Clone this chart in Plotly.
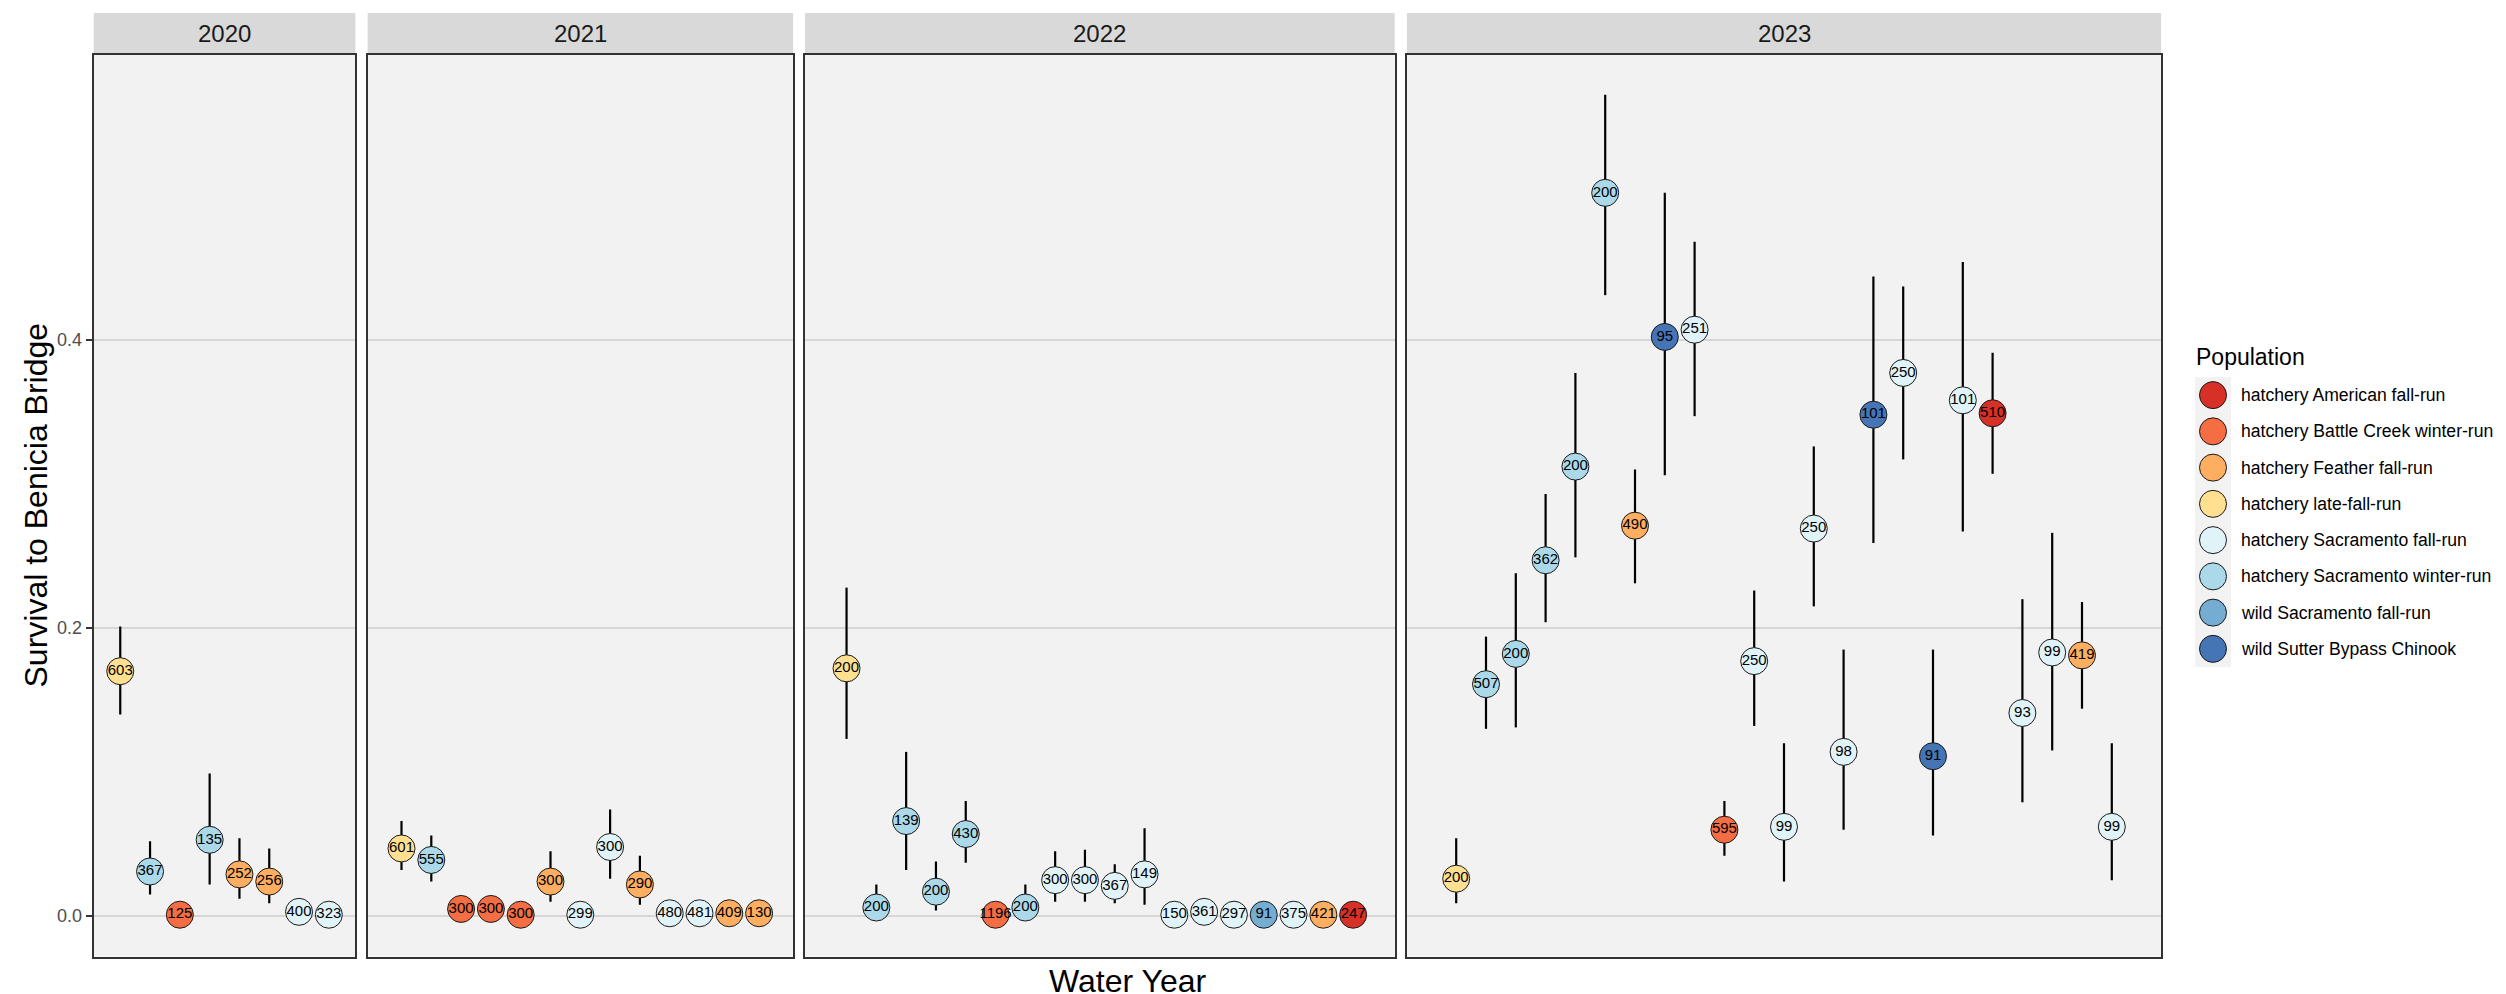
import plotly.graph_objects as go

W, H = 2506, 994
FONT = "Liberation Sans, Arial, sans-serif"

# ---------------- data ----------------
populations = [
    "hatchery American fall-run",
    "hatchery Battle Creek winter-run",
    "hatchery Feather fall-run",
    "hatchery late-fall-run",
    "hatchery Sacramento fall-run",
    "hatchery Sacramento winter-run",
    "wild Sacramento fall-run",
    "wild Sutter Bypass Chinook",
]
pop_colors = ["#D73027", "#F46D43", "#FDAE61", "#FEE090",
              "#E0F3F8", "#ABD9E9", "#74ADD1", "#4575B4"]
years = ["2020", "2021", "2022", "2023"]

# population index per release (0..7 as in `populations`)
pop_2020 = [3, 5, 1, 5, 2, 2, 4, 4]
n_2020 = [603, 367, 125, 135, 252, 256, 400, 323]
est_2020 = [0.170, 0.031, 0.001, 0.053, 0.029, 0.024, 0.003, 0.001]
lo_2020 = [0.140, 0.015, 0.001, 0.022, 0.012, 0.009, 0.003, 0.001]
hi_2020 = [0.201, 0.052, 0.001, 0.099, 0.054, 0.047, 0.003, 0.001]

pop_2021 = [3, 5, 1, 1, 1, 2, 4, 4, 2, 4, 4, 2, 2]
n_2021 = [601, 555, 300, 300, 300, 300, 299, 300, 290, 480, 481, 409, 130]
est_2021 = [0.047, 0.039, 0.005, 0.005, 0.001, 0.024, 0.001, 0.048, 0.022, 0.002, 0.002, 0.002, 0.002]
lo_2021 = [0.032, 0.024, 0.002, 0.002, 0.001, 0.010, 0.001, 0.026, 0.008, 0.002, 0.002, 0.002, 0.002]
hi_2021 = [0.066, 0.056, 0.014, 0.014, 0.001, 0.045, 0.001, 0.074, 0.042, 0.002, 0.002, 0.002, 0.002]

pop_2022 = [3, 5, 5, 5, 5, 1, 5, 4, 4, 4, 4, 4, 4, 4, 6, 4, 2, 0]
n_2022 = [200, 200, 139, 200, 430, 1196, 200, 300, 300, 367, 149, 150, 361, 297, 91, 375, 421, 247]
est_2022 = [0.172, 0.006, 0.066, 0.017, 0.057, 0.001, 0.006, 0.025, 0.025, 0.021, 0.029,
            0.001, 0.003, 0.001, 0.001, 0.001, 0.001, 0.001]
lo_2022 = [0.123, 0.001, 0.032, 0.004, 0.037, 0.001, 0.001, 0.010, 0.010, 0.009, 0.008,
           0.001, 0.003, 0.001, 0.001, 0.001, 0.001, 0.001]
hi_2022 = [0.228, 0.022, 0.114, 0.038, 0.080, 0.001, 0.022, 0.045, 0.046, 0.036, 0.061,
           0.001, 0.003, 0.001, 0.001, 0.001, 0.001, 0.001]

pop_2023 = [3, 5, 5, 5, 5, 5, 2, 7, 4, 1, 4, 4, 4, 4, 7, 4, 7, 4, 0, 4, 4, 2, 4]
n_2023 = [200, 507, 200, 362, 200, 200, 490, 95, 251, 595, 250, 99, 250, 98, 101, 250, 91, 101,
          510, 93, 99, 419, 99]
est_2023 = [0.026, 0.161, 0.182, 0.247, 0.312, 0.502, 0.271, 0.402, 0.407, 0.060, 0.177, 0.062,
            0.269, 0.114, 0.348, 0.377, 0.111, 0.358, 0.349, 0.141, 0.183, 0.181, 0.062]
lo_2023 = [0.009, 0.130, 0.131, 0.204, 0.249, 0.431, 0.231, 0.306, 0.347, 0.042, 0.132, 0.024,
           0.215, 0.060, 0.259, 0.317, 0.056, 0.267, 0.307, 0.079, 0.115, 0.144, 0.025]
hi_2023 = [0.054, 0.194, 0.238, 0.293, 0.377, 0.570, 0.310, 0.502, 0.468, 0.080, 0.226, 0.120,
           0.326, 0.185, 0.444, 0.437, 0.185, 0.454, 0.391, 0.220, 0.266, 0.218, 0.120]

panels = [
    (pop_2020, n_2020, est_2020, lo_2020, hi_2020),
    (pop_2021, n_2021, est_2021, lo_2021, hi_2021),
    (pop_2022, n_2022, est_2022, lo_2022, hi_2022),
    (pop_2023, n_2023, est_2023, lo_2023, hi_2023),
]

# ---------------- layout geometry (pixels) ----------------
panel_px = [(85.7, 347.4), (359.6, 785.0), (797.0, 1386.7), (1399.0, 2153.0)]
panel_top, panel_bot = 46.5, 948.5
strip_top = 5.0
spacing_px = 29.8
y_range = [-0.028, 0.598]

def px_x(v):
    return v / W

def px_y(v):
    return 1 - v / H

fig = go.Figure()
layout = dict(
    width=W, height=H, autosize=False,
    margin=dict(l=0, r=0, t=0, b=0),
    paper_bgcolor="white", plot_bgcolor="#F2F2F2",
    showlegend=False,
    font=dict(family=FONT, color="black"),
)
shapes, annotations = [], []

for i, (pops, ns, est, lo, hi) in enumerate(panels):
    k = "" if i == 0 else str(i + 1)
    x0, x1 = panel_px[i]
    npts = len(est)
    pad = ((x1 - x0) / spacing_px - (npts - 1)) / 2
    xs = list(range(npts))
    fig.add_trace(go.Scatter(
        x=xs, y=est, xaxis="x" + k, yaxis="y" + k,
        mode="markers+text",
        text=[str(v) for v in ns],
        textposition="middle center",
        textfont=dict(family=FONT, size=15, color="black"),
        marker=dict(size=27, color=[pop_colors[p] for p in pops],
                    line=dict(color="#1A1A1A", width=1)),
        error_y=dict(type="data", symmetric=False,
                     array=[h - e for h, e in zip(hi, est)],
                     arrayminus=[e - l for e, l in zip(est, lo)],
                     color="black", thickness=2.2, width=0),
        cliponaxis=False, hoverinfo="skip",
    ))
    layout["xaxis" + k] = dict(
        domain=[px_x(x0), px_x(x1)], range=[-pad, npts - 1 + pad],
        showgrid=False, zeroline=False, showticklabels=False, ticks="",
        showline=True, mirror=True, linecolor="#333333", linewidth=2,
        anchor="y" + k,
    )
    layout["yaxis" + k] = dict(
        domain=[px_y(panel_bot), px_y(panel_top)], range=y_range,
        tickvals=[0, 0.2, 0.4], ticktext=["0.0", "0.2", "0.4"],
        showticklabels=(i == 0), ticks="outside" if i == 0 else "",
        ticklen=6, tickwidth=2, tickcolor="#333333",
        tickfont=dict(family=FONT, size=18, color="#4D4D4D"),
        showgrid=True, gridcolor="#D6D6D6", gridwidth=2, zeroline=False,
        showline=True, mirror=True, linecolor="#333333", linewidth=2,
        anchor="x" + k,
    )
    # facet strip
    shapes.append(dict(type="rect", xref="paper", yref="paper",
                       x0=px_x(x0), x1=px_x(x1), y0=px_y(panel_top), y1=px_y(strip_top),
                       fillcolor="#D9D9D9", line=dict(width=0), layer="below"))
    annotations.append(dict(text=years[i], xref="paper", yref="paper",
                            x=px_x((x0 + x1) / 2), y=px_y((strip_top + panel_top) / 2),
                            xanchor="center", yanchor="middle", showarrow=False,
                            font=dict(family=FONT, size=24, color="#1A1A1A")))

# axis titles
annotations.append(dict(text="Water Year", xref="paper", yref="paper",
                        x=px_x((panel_px[0][0] + panel_px[3][1]) / 2), y=px_y(973),
                        xanchor="center", yanchor="middle", showarrow=False,
                        font=dict(family=FONT, size=32, color="black")))
annotations.append(dict(text="Survival to Benicia Bridge", xref="paper", yref="paper",
                        x=px_x(27), y=px_y((panel_top + panel_bot) / 2), textangle=-90,
                        xanchor="center", yanchor="middle", showarrow=False,
                        font=dict(family=FONT, size=32, color="black")))

# ---------------- legend (custom, keys on a small subplot) ----------------
key_x0, key_x1, key_y0, key_y1 = 2187, 2223, 369, 659
fig.add_trace(go.Scatter(
    x=[0.5] * len(populations), y=list(range(len(populations))),
    xaxis="x5", yaxis="y5", mode="markers",
    marker=dict(size=27, color=pop_colors, line=dict(color="#1A1A1A", width=1)),
    hoverinfo="skip", cliponaxis=False,
))
layout["xaxis5"] = dict(domain=[px_x(key_x0), px_x(key_x1)], range=[0, 1], visible=False,
                        anchor="y5")
layout["yaxis5"] = dict(domain=[px_y(key_y1), px_y(key_y0)],
                        range=[len(populations) - 0.5, -0.5], visible=False, anchor="x5")
for j, name in enumerate(populations):
    annotations.append(dict(text=name, xref="paper", yref="y5", x=px_x(2231), y=j,
                            xanchor="left", yanchor="middle", showarrow=False,
                            font=dict(family=FONT, size=17.6, color="black")))
annotations.append(dict(text="Population", xref="paper", yref="paper",
                        x=px_x(2186), y=px_y(349), xanchor="left", yanchor="middle",
                        showarrow=False, font=dict(family=FONT, size=23, color="black")))

layout["shapes"] = shapes
layout["annotations"] = annotations
fig.update_layout(**layout)
fig.write_html("out.html")
